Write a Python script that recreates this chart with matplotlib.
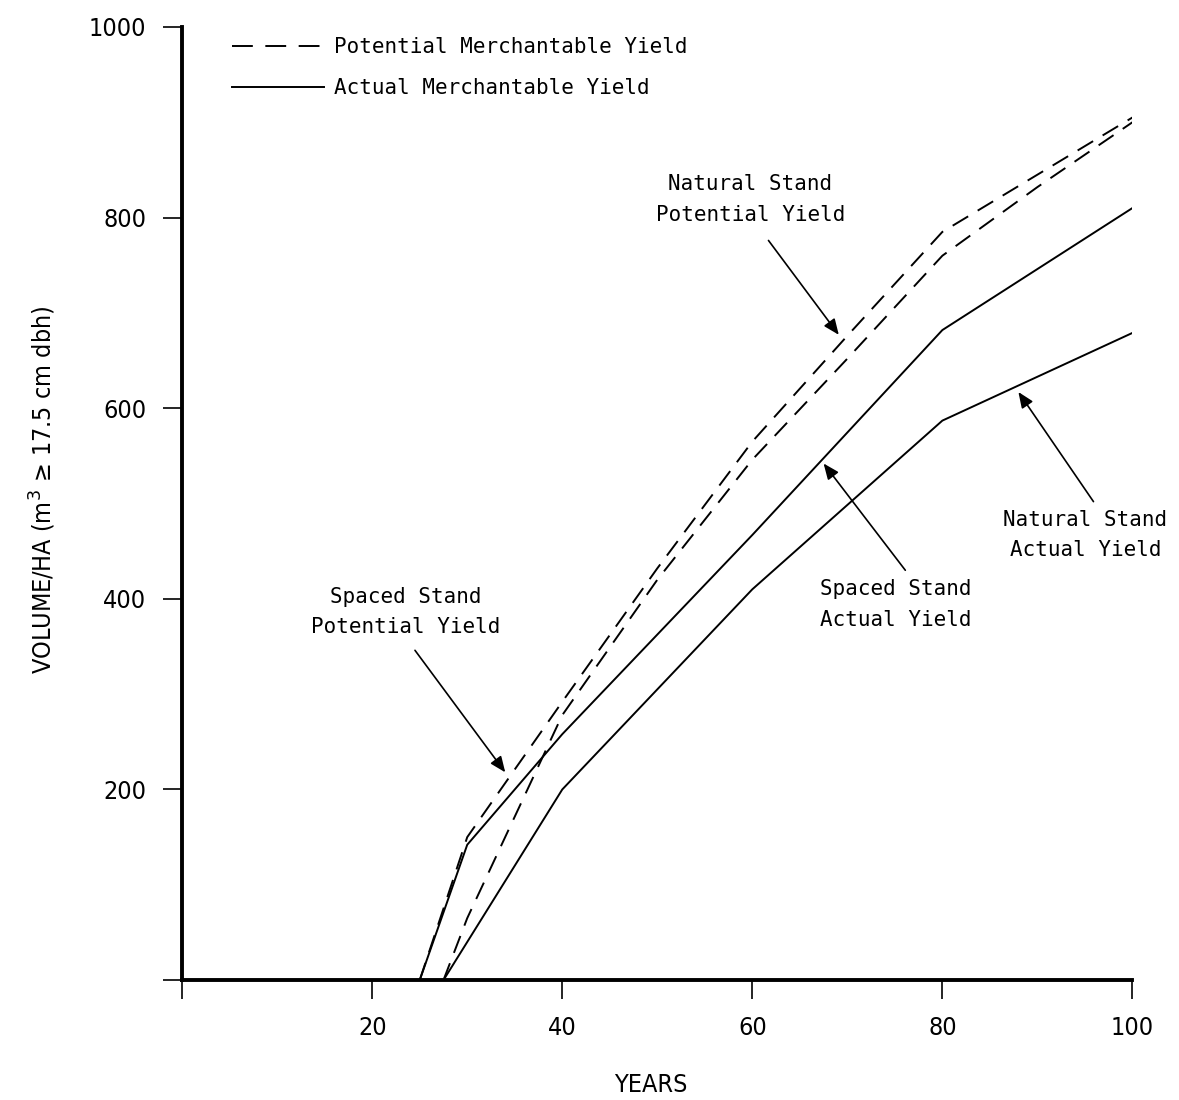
import matplotlib
matplotlib.use("Agg")
import matplotlib.pyplot as plt

plt.rcParams['lines.scale_dashes'] = False

# Data (years, volume m3/ha)
spaced_pot_x = [25, 30, 40, 50, 60, 70, 80, 90, 100]
spaced_pot_y = [0, 150, 292, 432, 565, 676, 785, 845, 905]
natural_pot_x = [27.5, 30, 40, 50, 60, 70, 80, 90, 100]
natural_pot_y = [0, 65, 278, 420, 546, 652, 760, 832, 900]
spaced_act_x = [25, 30, 40, 60, 80, 100]
spaced_act_y = [0, 142, 258, 467, 682, 810]
natural_act_x = [27.5, 40, 60, 80, 100]
natural_act_y = [0, 200, 410, 587, 679]

xticks = [20, 40, 60, 80, 100]
yticks = [200, 400, 600, 800, 1000]

mono = 'DejaVu Sans Mono'
cond = dict(family='DejaVu Sans', stretch='condensed')

fig = plt.figure(figsize=(11.79, 11.0), dpi=100)
ax = fig.add_axes([0.1545, 0.109, 0.806, 0.8665])

dash = (0, (13, 8))
lw = 1.4
ax.plot(spaced_pot_x, spaced_pot_y, color='black', lw=lw, linestyle=dash)
ax.plot(natural_pot_x, natural_pot_y, color='black', lw=lw, linestyle=dash)
ax.plot(spaced_act_x, spaced_act_y, color='black', lw=lw)
ax.plot(natural_act_x, natural_act_y, color='black', lw=lw)

ax.set_xlim(0, 100)
ax.set_ylim(0, 1000)
for s in ['top', 'right']:
    ax.spines[s].set_visible(False)
ax.spines['left'].set_linewidth(2.8)
ax.spines['bottom'].set_linewidth(2.8)

ax.set_xticks([0] + xticks)
ax.set_xticklabels([''] + [str(t) for t in xticks], fontsize=18, **cond)
ax.set_yticks([0] + yticks)
ax.set_yticklabels([''] + [str(t) for t in yticks], fontsize=18, **cond)
ax.tick_params(axis='both', direction='out', length=14, width=1.2, pad=12)

ax.set_xlabel('YEARS', fontsize=18, va='center', **cond)
ax.xaxis.set_label_coords(0.4926, -0.110)
ax.set_ylabel(r'VOLUME/HA (m$^3$ ≥ 17.5 cm dbh)', fontsize=18, va='center', **cond)
ax.yaxis.set_label_coords(-0.147, 0.514)

# Legend
from matplotlib.lines import Line2D
handles = [Line2D([], [], color='black', lw=lw, linestyle=(0, (15, 9))),
           Line2D([], [], color='black', lw=lw)]
ax.legend(handles, ['Potential Merchantable Yield', 'Actual Merchantable Yield'],
          loc='upper left', bbox_to_anchor=(0.033, 1.009), frameon=False,
          prop={'family': mono, 'size': 15}, handlelength=4.4,
          handletextpad=0.5, labelspacing=1.0)

arrowprops = dict(arrowstyle='-|>,head_length=0.95,head_width=0.4',
                  color='black', lw=1.2, shrinkA=0, shrinkB=0)
tkw = dict(fontsize=15, family=mono, ha='center', va='center', linespacing=1.65)

ax.annotate('', xy=(69.1, 677), xytext=(61.7, 776), arrowprops=arrowprops)
ax.text(59.8, 819, 'Natural Stand\nPotential Yield', **tkw)

ax.annotate('', xy=(34, 218), xytext=(24.5, 346), arrowprops=arrowprops)
ax.text(23.5, 386, 'Spaced Stand\nPotential Yield', **tkw)

ax.annotate('', xy=(67.5, 542), xytext=(76.1, 430), arrowprops=arrowprops)
ax.text(75.05, 394, 'Spaced Stand\nActual Yield', **tkw)

ax.annotate('', xy=(88, 617), xytext=(95.9, 502), arrowprops=arrowprops)
ax.text(95.05, 467, 'Natural Stand\nActual Yield', **tkw)

fig.savefig('out.png', dpi=100)
